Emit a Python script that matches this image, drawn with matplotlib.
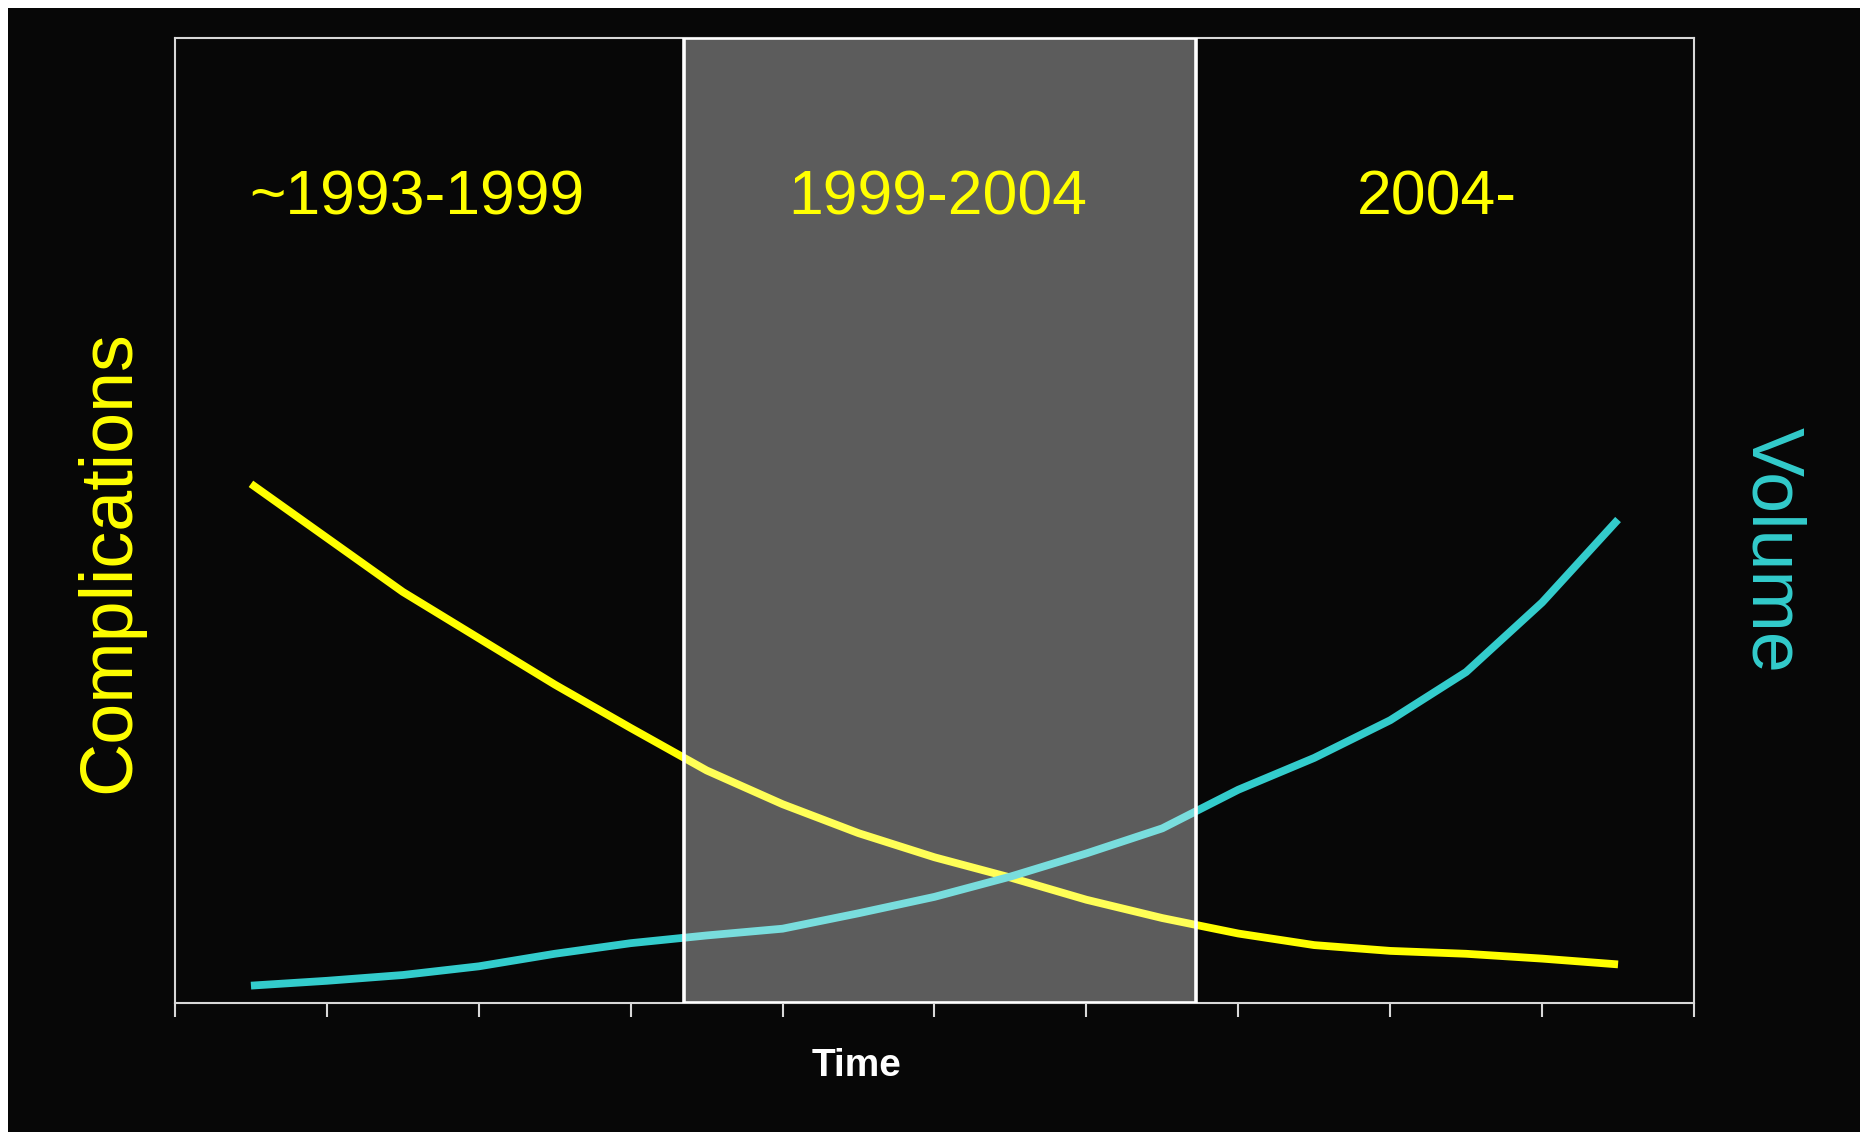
import matplotlib
matplotlib.use("Agg")
import matplotlib.pyplot as plt
from matplotlib.patches import Rectangle

plt.rcParams['font.family'] = ['Liberation Sans', 'DejaVu Sans']

# time axis runs over 10 categories; curves sampled every half category
time_pos = [0.5, 1.0, 1.5, 2.0, 2.5, 3.0, 3.5, 4.0, 4.5, 5.0,
            5.5, 6.0, 6.5, 7.0, 7.5, 8.0, 8.5, 9.0, 9.5]
complications = [53.8, 48.2, 42.6, 37.8, 33.0, 28.5, 24.1, 20.6, 17.6, 15.1,
                 13.0, 10.7, 8.8, 7.2, 6.0, 5.4, 5.1, 4.6, 4.0]
volume = [1.8, 2.3, 2.9, 3.8, 5.1, 6.2, 7.0, 7.7, 9.3, 11.0,
          13.1, 15.5, 18.1, 22.1, 25.4, 29.3, 34.3, 41.5, 50.1]

eras = ["~1993-1999", "1999-2004", "2004-"]
era_centers = [1.59, 5.02, 8.31]
band = (3.35, 6.72)

YELLOW = "#ffff00"
CYAN = "#33cccc"
BG = "#070707"

W, H = 1865, 1136
fig = plt.figure(figsize=(W / 100, H / 100), dpi=100, facecolor="white")

# dark slide area inside a thin white margin
fig.patches.append(Rectangle((8 / W, 4 / H), (1860 - 8) / W, (1130 - 6) / H,
                             transform=fig.transFigure, facecolor=BG,
                             edgecolor="none", zorder=-10))

ax = fig.add_axes([175 / W, 133 / H, (1694 - 175) / W, (1003 - 38) / H])
ax.set_zorder(1)
ax.set_facecolor(BG)
ax.set_xlim(0, 10)
ax.set_ylim(0, 100)

ax.plot(time_pos, complications, color=YELLOW, lw=5.6, solid_capstyle="butt",
        solid_joinstyle="round", zorder=3)
ax.plot(time_pos, volume, color=CYAN, lw=5.6, solid_capstyle="butt",
        solid_joinstyle="round", zorder=3)

# translucent highlight over the middle period
ax.axvspan(band[0], band[1], facecolor=(1, 1, 1, 0.345), edgecolor="white",
           lw=2.6, zorder=4)

for name, xc in zip(eras, era_centers):
    ax.text(xc, 83.4, name, color=YELLOW, fontsize=45, ha="center", va="center", zorder=5)

for s in ax.spines.values():
    s.set_color("#d8d8d8")
    s.set_linewidth(1.5)

ax.set_xticks(range(11))
ax.set_xticklabels([])
ax.set_yticks([])
ax.tick_params(axis="x", direction="out", length=10, width=1.5, color="#d8d8d8")

fig.text(110 / W, 1 - 562 / H, "Complications", color=YELLOW, fontsize=53,
         rotation=90, ha="center", va="center")
fig.text(1772 / W, 1 - 550 / H, "Volume", color=CYAN, fontsize=53,
         rotation=270, ha="center", va="center")
fig.text(857 / W, 1 - 1066 / H, "Time", color="white", fontsize=28,
         fontweight="bold", ha="center", va="center")

fig.savefig("out.png", dpi=100, facecolor=fig.get_facecolor())
